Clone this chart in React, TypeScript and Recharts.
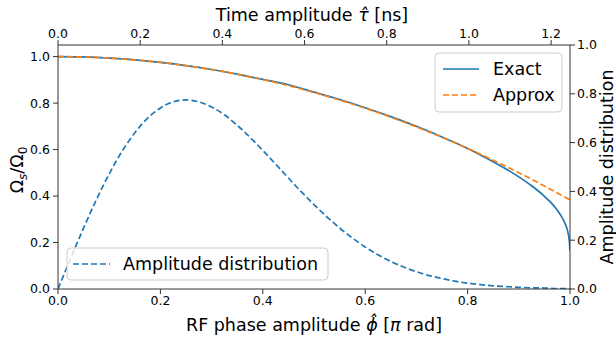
import React from 'react';
import { ComposedChart, Line, XAxis, YAxis } from 'recharts';

// RF phase amplitude (units of pi rad) for each series
const phiExact = [0, 0.05, 0.1, 0.15, 0.2, 0.25, 0.3, 0.35, 0.4, 0.45, 0.5, 0.55, 0.6, 0.65, 0.7, 0.75, 0.775, 0.8, 0.825, 0.85, 0.875, 0.9, 0.925, 0.95, 0.96, 0.97, 0.98, 0.99, 0.995, 0.999, 0.9998];
const exactVals = [1, 0.9985, 0.9938, 0.9861, 0.9754, 0.9616, 0.9447, 0.9249, 0.902, 0.8791, 0.8472, 0.8153, 0.7802, 0.7419, 0.7001, 0.6545, 0.63, 0.6042, 0.5769, 0.5479, 0.5167, 0.4825, 0.4442, 0.3991, 0.3778, 0.3535, 0.324, 0.2835, 0.252, 0.2003, 0.167];

const phiApprox = [0, 0.05, 0.1, 0.15, 0.2, 0.25, 0.3, 0.35, 0.4, 0.45, 0.5, 0.55, 0.6, 0.65, 0.7, 0.75, 0.8, 0.85, 0.9, 0.95, 1.0];
const approxVals = [1, 0.9985, 0.9938, 0.9861, 0.9753, 0.9614, 0.9445, 0.9244, 0.9013, 0.8751, 0.8458, 0.8134, 0.7779, 0.7394, 0.6977, 0.653, 0.6052, 0.5543, 0.5004, 0.4433, 0.3832];

const phiAmp = [0, 0.025, 0.05, 0.075, 0.1, 0.125, 0.15, 0.175, 0.2, 0.225, 0.25, 0.275, 0.3, 0.325, 0.35, 0.375, 0.4, 0.425, 0.45, 0.475, 0.5, 0.525, 0.55, 0.575, 0.6, 0.625, 0.65, 0.675, 0.7, 0.725, 0.75, 0.775, 0.8, 0.825, 0.85, 0.875, 0.9, 0.925, 0.95, 0.975, 1.0];
const ampVals = [0, 0.127, 0.25, 0.366, 0.472, 0.564, 0.64, 0.7, 0.742, 0.767, 0.775, 0.767, 0.746, 0.714, 0.671, 0.622, 0.568, 0.512, 0.455, 0.399, 0.346, 0.296, 0.25, 0.209, 0.172, 0.14, 0.113, 0.09, 0.071, 0.055, 0.043, 0.032, 0.024, 0.018, 0.013, 0.01, 0.007, 0.005, 0.004, 0.002, 0.002];

const phiTicks = [0, 0.2, 0.4, 0.6, 0.8, 1.0];
const tauTicks = [0, 0.2, 0.4, 0.6, 0.8, 1.0, 1.2];
const yTicks = [0, 0.2, 0.4, 0.6, 0.8, 1.0];

const exactData = phiExact.map((x, i) => ({ x, y: exactVals[i] }));
const approxData = phiApprox.map((x, i) => ({ x, y: approxVals[i] }));
const ampData = phiAmp.map((x, i) => ({ x, y: ampVals[i] }));
// empty series so the secondary (time) axis gets drawn
const tauData = tauTicks.map((t) => ({ t, y: null }));

const BLUE = '#1f77b4';
const ORANGE = '#ff7f0e';
const FONT = 'DejaVu Sans, sans-serif';
const AXIS = '#333';
const tick = { fontSize: 12.5, fill: '#000', fontFamily: FONT };
const fmt = (v: number) => v.toFixed(1);

const W = 616;
const H = 340;

export default function App() {
  return (
    <div style={{ position: 'absolute', left: 0, top: 0, width: W, height: H, fontFamily: FONT }}>
      <ComposedChart width={W} height={H} margin={{ top: 0, right: 0, bottom: 0, left: 0 }}>
        <XAxis
          xAxisId="bottom"
          dataKey="x"
          type="number"
          domain={[0, 1]}
          ticks={phiTicks}
          tickFormatter={fmt}
          height={51}
          tick={tick}
          tickSize={5}
          tickMargin={2}
          stroke={AXIS}
          allowDataOverflow
          label={() => (
            <text x={314} y={331} textAnchor="middle" fontSize={17.5} fontFamily={FONT} fill="#000">
              RF phase amplitude <tspan fontStyle="italic">ϕ̂</tspan> [<tspan fontStyle="italic">π</tspan> rad]
            </text>
          )}
        />
        <XAxis
          xAxisId="top"
          dataKey="t"
          orientation="top"
          type="number"
          domain={[0, 1.246]}
          ticks={tauTicks}
          tickFormatter={fmt}
          height={45}
          tick={tick}
          tickSize={5}
          tickMargin={2}
          stroke={AXIS}
          allowDataOverflow
          label={() => (
            <text x={312} y={21} textAnchor="middle" fontSize={17.5} fontFamily={FONT} fill="#000">
              Time amplitude <tspan fontStyle="italic">τ̂</tspan> [ns]
            </text>
          )}
        />
        <YAxis
          yAxisId="left"
          type="number"
          domain={[0, 1.05]}
          ticks={yTicks}
          tickFormatter={fmt}
          width={58}
          tick={tick}
          tickSize={5}
          tickMargin={3}
          stroke={AXIS}
          allowDataOverflow
          label={() => (
            <text transform="rotate(-90, 23, 170)" x={23} y={170} textAnchor="middle" fontSize={17.5} fontFamily={FONT} fill="#000">
              Ω<tspan fontSize={12} fontStyle="italic" dy={4}>s</tspan><tspan dy={-4}>/Ω</tspan><tspan fontSize={12} dy={4}>0</tspan>
            </text>
          )}
        />
        <YAxis
          yAxisId="right"
          orientation="right"
          type="number"
          domain={[0, 1]}
          ticks={yTicks}
          tickFormatter={fmt}
          width={46}
          tick={tick}
          tickSize={5}
          tickMargin={2}
          stroke={AXIS}
          allowDataOverflow
          label={() => (
            <text transform="rotate(-90, 613, 167)" x={613} y={167} textAnchor="middle" fontSize={17.5} fontFamily={FONT} fill="#000">
              Amplitude distribution
            </text>
          )}
        />
        <Line
          data={tauData}
          xAxisId="top"
          yAxisId="left"
          dataKey="y"
          stroke="none"
          dot={false}
          legendType="none"
          isAnimationActive={false}
        />
        <Line
          data={ampData}
          xAxisId="bottom"
          yAxisId="right"
          dataKey="y"
          stroke={BLUE}
          strokeWidth={1.7}
          strokeDasharray="6 3"
          dot={false}
          type="monotone"
          isAnimationActive={false}
        />
        <Line
          data={exactData}
          xAxisId="bottom"
          yAxisId="left"
          dataKey="y"
          stroke={BLUE}
          strokeWidth={1.7}
          dot={false}
          type="monotone"
          isAnimationActive={false}
        />
        <Line
          data={approxData}
          xAxisId="bottom"
          yAxisId="left"
          dataKey="y"
          stroke={ORANGE}
          strokeWidth={1.7}
          strokeDasharray="6 3"
          dot={false}
          type="monotone"
          isAnimationActive={false}
        />
      </ComposedChart>
      <svg width={W} height={H} style={{ position: 'absolute', left: 0, top: 0, pointerEvents: 'none' }}>
        <rect x={435} y={53} width={127} height={59} rx={4} fill="#fff" fillOpacity={0.8} stroke="#ccc" />
        <line x1={443} x2={479} y1={69} y2={69} stroke={BLUE} strokeWidth={1.7} />
        <text x={493} y={75} fontSize={17.5} fontFamily={FONT}>Exact</text>
        <line x1={443} x2={479} y1={95} y2={95} stroke={ORANGE} strokeWidth={1.7} strokeDasharray="6 3" />
        <text x={493} y={101} fontSize={17.5} fontFamily={FONT}>Approx</text>

        <rect x={67} y={248} width={261} height={32} rx={4} fill="#fff" fillOpacity={0.8} stroke="#ccc" />
        <line x1={73} x2={110} y1={264} y2={264} stroke={BLUE} strokeWidth={1.7} strokeDasharray="6 3" />
        <text x={123} y={270} fontSize={17.5} fontFamily={FONT}>Amplitude distribution</text>
      </svg>
    </div>
  );
}
